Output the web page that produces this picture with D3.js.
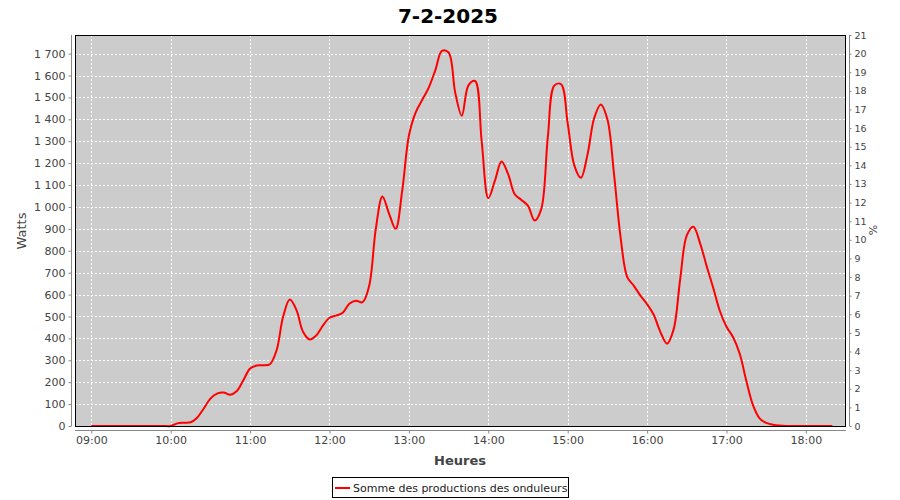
<!DOCTYPE html>
<html><head><meta charset="utf-8">
<script src="https://cdn.jsdelivr.net/npm/d3@7"></script>
<style>
body{margin:0;background:#fff;}
svg{display:block;font-family:"DejaVu Sans",sans-serif;}
</style></head>
<body><svg id="c" width="900" height="500"></svg>
<script>
const title = "7-2-2025";
const seriesName = "Somme des productions des onduleurs";
const times = [
"09:00","09:05","09:10","09:15","09:20","09:25","09:30","09:35","09:40","09:45","09:50","09:55",
"10:00","10:05","10:10","10:15","10:20","10:25","10:30","10:35","10:40","10:45","10:50","10:55",
"11:00","11:05","11:10","11:15","11:20","11:25","11:30","11:35","11:40","11:45","11:50","11:55",
"12:00","12:05","12:10","12:15","12:20","12:25","12:30","12:35","12:40","12:45","12:50","12:55",
"13:00","13:05","13:10","13:15","13:20","13:25","13:30","13:35","13:40","13:45","13:50","13:55",
"14:00","14:05","14:10","14:15","14:20","14:25","14:30","14:35","14:40","14:45","14:50","14:55",
"15:00","15:05","15:10","15:15","15:20","15:25","15:30","15:35","15:40","15:45","15:50","15:55",
"16:00","16:05","16:10","16:15","16:20","16:25","16:30","16:35","16:40","16:45","16:50","16:55",
"17:00","17:05","17:10","17:15","17:20","17:25","17:30","17:35","17:40","17:45","17:50","17:55",
"18:00","18:05","18:10","18:15","18:20"];
const watts = [
0,0,0,0,0,0,0,0,0,0,0,0,
0,12,15,17,38,80,125,148,153,143,160,210,
262,276,277,282,345,500,577,530,430,395,413,458,
494,504,517,558,572,565,640,900,1048,970,900,1077,
1325,1430,1488,1545,1625,1712,1705,1522,1416,1555,1575,1300,
1040,1120,1207,1150,1058,1032,1005,938,990,1320,1555,1560,
1382,1190,1133,1240,1405,1468,1400,1150,860,680,640,595,
556,508,430,376,440,670,870,910,835,730,630,525,
453,405,330,205,95,35,14,6,2,0,0,0,
0,0,0,0,0];
const xTicks = ["09:00","10:00","11:00","12:00","13:00","14:00","15:00","16:00","17:00","18:00"];
const yTicksLeft = [0,100,200,300,400,500,600,700,800,900,1000,1100,1200,1300,1400,1500,1600,1700];
const yTicksRight = [0,1,2,3,4,5,6,7,8,9,10,11,12,13,14,15,16,17,18,19,20,21];

const toMin = s => { const [h,m] = s.split(":").map(Number); return h*60+m; };
const svg = d3.select("#c");
const L = 75, R = 846, T = 35, B = 426;
const x = d3.scaleLinear().domain([527.7, 1110.3]).range([L, R]);
const y = d3.scaleLinear().domain([0, 1785]).range([B, T]);
const y2 = d3.scaleLinear().domain([0, 21]).range([B, T]);
const txt = "#444444", axc = "#888888";

// background
svg.append("rect").attr("x",L).attr("y",T).attr("width",R-L).attr("height",B-T).attr("fill","#cccccc");
// grid
const g = svg.append("g").attr("stroke","#ffffff").attr("stroke-width",1).attr("stroke-dasharray","2,2").attr("shape-rendering","crispEdges");
yTicksLeft.forEach(v => g.append("line").attr("x1",L).attr("x2",R).attr("y1",Math.round(y(v))+0.5).attr("y2",Math.round(y(v))+0.5));
xTicks.forEach(t => g.append("line").attr("y1",T).attr("y2",B).attr("x1",Math.round(x(toMin(t)))+0.5).attr("x2",Math.round(x(toMin(t)))+0.5));

// line
const data = times.map((t,i) => [toMin(t), watts[i]]);
svg.append("path").datum(data)
  .attr("d", d3.line().x(d=>x(d[0])).y(d=>Math.min(B, y(d[1]))).curve(d3.curveCatmullRom.alpha(0.5)))
  .attr("fill","none").attr("stroke","#ff0000").attr("stroke-width",2).attr("stroke-linejoin","round");

// border
svg.append("rect").attr("x",L+0.5).attr("y",T+0.5).attr("width",R-L-1).attr("height",B-T).attr("fill","none").attr("stroke","#000").attr("stroke-width",1);

function style(ax){
  ax.select(".domain").attr("stroke",axc);
  ax.selectAll(".tick line").attr("stroke",axc);
  ax.selectAll(".tick text").attr("fill",txt);
}
const fmt = v => d3.format(",")(v).replace(/,/g," ");
// left axis
const axL = svg.append("g").attr("transform",`translate(${L-4+0.5},0)`)
  .call(d3.axisLeft(y).tickValues(yTicksLeft).tickFormat(fmt).tickSize(3).tickSizeOuter(0).tickPadding(3));
axL.selectAll("text").attr("font-size",11).attr("font-family","DejaVu Sans");
style(axL);
// right axis
const axR = svg.append("g").attr("transform",`translate(${R+4-0.5},0)`)
  .call(d3.axisRight(y2).tickValues(yTicksRight).tickSize(2).tickSizeOuter(0).tickPadding(3));
axR.selectAll("text").attr("font-size",9.5).attr("font-family","DejaVu Sans");
style(axR);
// bottom axis
const axB = svg.append("g").attr("transform",`translate(0,${B+4+0.5})`)
  .call(d3.axisBottom(x).tickValues(xTicks.map(toMin)).tickFormat((d,i)=>xTicks[i]).tickSize(3).tickSizeOuter(0).tickPadding(3));
axB.selectAll("text").attr("font-size",11).attr("font-family","DejaVu Sans");
style(axB);
axL.select(".domain").attr("d",`M0,${T}V${B}`);
axR.select(".domain").attr("d",`M0,${T}V${B}`);
axB.select(".domain").attr("d",`M${L},0H${R}`);

// titles
svg.append("text").attr("x",448).attr("y",23).attr("text-anchor","middle")
  .attr("font-size",20).attr("font-weight","bold").attr("fill","#000").text(title);
svg.append("text").attr("x",460).attr("y",465).attr("text-anchor","middle")
  .attr("font-size",13).attr("font-weight","bold").attr("fill",txt).text("Heures");
svg.append("text").attr("transform","translate(26,231) rotate(-90)").attr("text-anchor","middle")
  .attr("font-size",13).attr("fill",txt).text("Watts");
svg.append("text").attr("transform","translate(877,230) rotate(-90)").attr("text-anchor","middle")
  .attr("font-size",11).attr("fill",txt).text("%");

// legend
const lg = svg.append("g");
lg.append("rect").attr("x",332.5).attr("y",477.5).attr("width",236).attr("height",20).attr("fill","#fff").attr("stroke","#000");
lg.append("line").attr("x1",335).attr("x2",350).attr("y1",488).attr("y2",488).attr("stroke","#ff0000").attr("stroke-width",2);
lg.append("text").attr("x",353).attr("y",492).attr("font-size",11).attr("fill","#222").text(seriesName);
</script></body></html>
